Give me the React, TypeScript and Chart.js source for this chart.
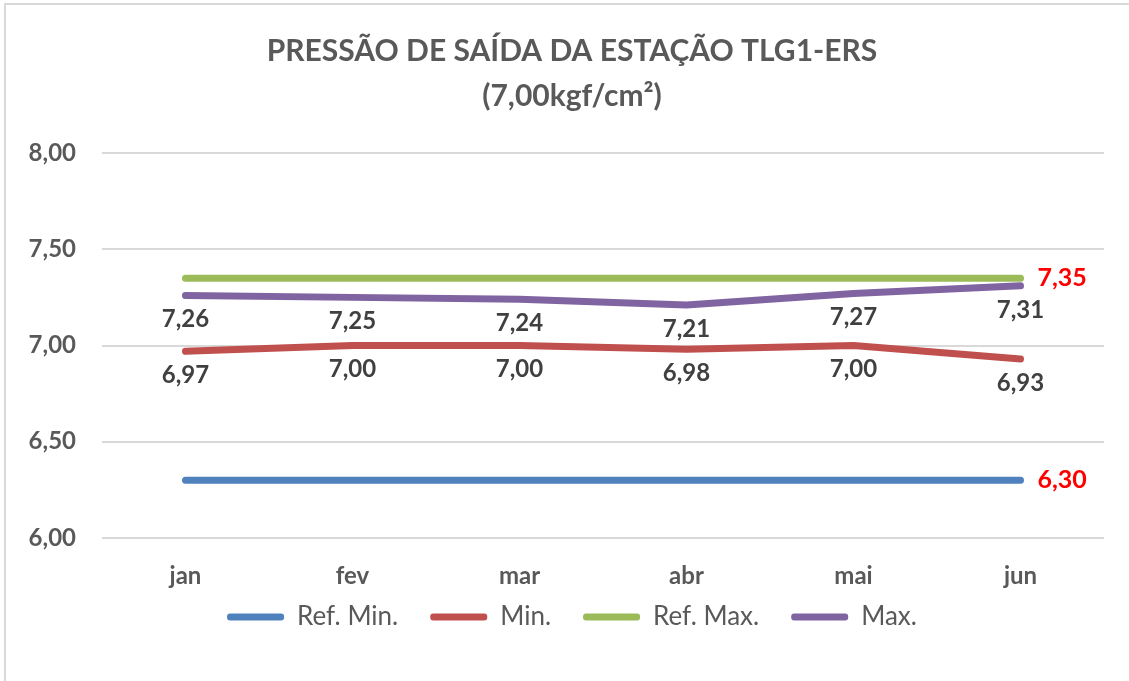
import React, { useEffect, useRef } from 'react';
import { Chart, registerables } from 'chart.js';

Chart.register(...registerables);

const categories = ['jan', 'fev', 'mar', 'abr', 'mai', 'jun'];
const refMinValues = [6.3, 6.3, 6.3, 6.3, 6.3, 6.3];
const minValues = [6.97, 7.0, 7.0, 6.98, 7.0, 6.93];
const refMaxValues = [7.35, 7.35, 7.35, 7.35, 7.35, 7.35];
const maxValues = [7.26, 7.25, 7.24, 7.21, 7.27, 7.31];
const seriesNames = ['Ref. Min.', 'Min.', 'Ref. Max.', 'Max.'];
const seriesColors = ['#4F81BD', '#C0504D', '#9BBB59', '#8064A2'];
const titleLines = ['PRESSÃO DE SAÍDA DA ESTAÇÃO TLG1-ERS', '(7,00kgf/cm²)'];
const yMin = 6;
const yMax = 8;
const yStep = 0.5;

const FONT = 'Lato, "Open Sans", sans-serif';
const fmt = (v: number) => v.toFixed(2).replace('.', ',');

const valueLabels = {
  id: 'valueLabels',
  afterDatasetsDraw(chart: any) {
    const ctx = chart.ctx;
    ctx.save();
    chart.data.datasets.forEach((ds: any, i: number) => {
      const meta = chart.getDatasetMeta(i);
      meta.data.forEach((pt: any, j: number) => {
        const v = ds.data[j];
        if (ds.labelMode === 'below') {
          ctx.font = `bold 24px ${FONT}`;
          ctx.fillStyle = '#404040';
          ctx.textAlign = 'center';
          ctx.textBaseline = 'middle';
          ctx.fillText(fmt(v), pt.x, pt.y + 24);
        } else if (ds.labelMode === 'lastRight' && j === ds.data.length - 1) {
          ctx.font = `bold 25px ${FONT}`;
          ctx.fillStyle = '#FF0000';
          ctx.textAlign = 'left';
          ctx.textBaseline = 'middle';
          ctx.fillText(fmt(v), pt.x + 17, pt.y);
        }
      });
    });
    ctx.restore();
  },
};

const noLabelClip = (scale: any) => {
  scale._computeLabelArea = () => undefined;
};

export default function App() {
  const canvasRef = useRef<HTMLCanvasElement | null>(null);

  useEffect(() => {
    if (!canvasRef.current) return;
    const allValues = [refMinValues, minValues, refMaxValues, maxValues];
    const labelModes = ['lastRight', 'below', 'lastRight', 'below'];
    const chart = new Chart(canvasRef.current, {
      type: 'line',
      data: {
        labels: categories,
        datasets: allValues.map((vals, i) => ({
          label: seriesNames[i],
          data: vals,
          borderColor: seriesColors[i],
          backgroundColor: seriesColors[i],
          borderWidth: 7,
          borderCapStyle: 'round',
          borderJoinStyle: 'round',
          pointRadius: 0,
          pointHoverRadius: 0,
          tension: 0,
          fill: false,
          labelMode: labelModes[i],
        })) as any,
      },
      options: {
        responsive: true,
        maintainAspectRatio: false,
        animation: false,
        layout: { padding: { left: 40, right: 25, top: 0, bottom: 41 } },
        plugins: {
          tooltip: { enabled: false },
          title: {
            display: true,
            text: titleLines,
            color: '#595959',
            font: { family: FONT, size: 30, weight: 'bold', lineHeight: 1.5 },
            padding: { top: 29, bottom: 34 },
          },
          legend: {
            display: true,
            position: 'bottom',
            labels: {
              color: '#595959',
              font: { family: FONT, size: 26 },
              boxWidth: 57,
              boxHeight: 7,
              padding: 32,
              useBorderRadius: true,
              borderRadius: 3,
              generateLabels: (chart: any) =>
                chart.data.datasets.map((ds: any, i: number) => ({
                  text: ds.label,
                  fillStyle: ds.borderColor,
                  strokeStyle: ds.borderColor,
                  lineWidth: 0,
                  fontColor: '#595959',
                  datasetIndex: i,
                  hidden: false,
                  borderRadius: 3,
                })),
            },
          },
        },
        scales: {
          x: {
            type: 'category',
            offset: true,
            grid: { display: false, drawTicks: false },
            border: { display: false },
            ticks: {
              color: '#595959',
              font: { family: FONT, size: 24, weight: 'bold' },
              padding: 24,
            },
            afterFit: (scale: any) => {
              scale.height = 34;
              noLabelClip(scale);
            },
          },
          y: {
            min: yMin,
            max: yMax,
            grid: { color: '#D9D9D9', lineWidth: 2, drawTicks: false },
            border: { display: false },
            ticks: {
              stepSize: yStep,
              color: '#595959',
              font: { family: FONT, size: 24, weight: 'bold' },
              padding: 26,
              callback: (v: any) => fmt(Number(v)),
            },
            afterFit: (scale: any) => {
              scale.width = 62;
              noLabelClip(scale);
            },
          },
        },
      } as any,
      plugins: [valueLabels],
    });
    return () => chart.destroy();
  }, []);

  return (
    <div style={{ position: 'absolute', left: 0, top: 0, width: 1129, height: 681, background: '#fff' }}>
      <div
        style={{
          position: 'absolute',
          left: 4,
          top: 3,
          right: 0,
          bottom: 0,
          borderTop: '2px solid #D9D9D9',
          borderLeft: '2px solid #D9D9D9',
        }}
      />
      <div style={{ position: 'absolute', left: 0, top: 0, width: 1129, height: 681 }}>
        <canvas ref={canvasRef} />
      </div>
    </div>
  );
}
